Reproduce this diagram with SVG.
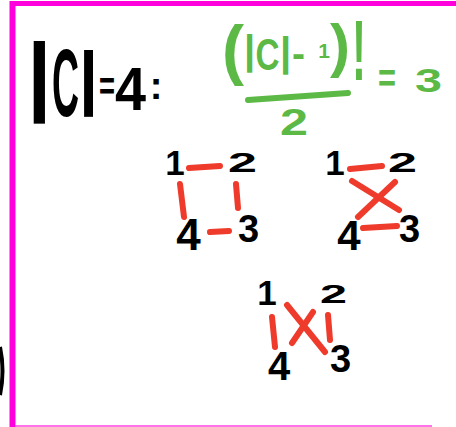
<svg xmlns="http://www.w3.org/2000/svg" width="456" height="427" viewBox="0 0 456 427">
<style>
.k{font-family:"Liberation Sans",Arial,sans-serif;font-weight:bold;fill:#000}
.g{font-family:"Liberation Sans",Arial,sans-serif;font-weight:bold;fill:#5cb946}
.e{stroke:#ee3b2b;stroke-width:6;stroke-linecap:round;fill:none}
.m{stroke:#ff00dc;fill:none}
</style>
<rect width="456" height="427" fill="#fff"/>
<g id="frame">
<line class="m" x1="10" y1="3.5" x2="456" y2="3.5" stroke-width="5"/>
<line class="m" x1="12.5" y1="1" x2="12.5" y2="427" stroke-width="6"/>
<line x1="15" y1="426" x2="432" y2="426" stroke="#ff44e0" stroke-width="1.5"/>
<path d="M0,347 Q5,371 0,395" stroke="#000" stroke-width="4" fill="none"/>
</g>
<g id="title">
<text class="k"><tspan x="27" y="104" font-size="88">|</tspan><tspan x="52" y="116" font-size="96" textLength="27" lengthAdjust="spacingAndGlyphs">C</tspan><tspan x="78.7" y="101" font-size="70">|</tspan><tspan x="99" y="100" font-size="40" textLength="16" lengthAdjust="spacingAndGlyphs">=</tspan><tspan x="115" y="110" font-size="62" textLength="31" lengthAdjust="spacingAndGlyphs">4</tspan><tspan x="149.7" y="99" font-size="38">:</tspan></text>
</g>
<g id="formula">
<text class="g"><tspan x="222" y="72" font-size="66">(</tspan><tspan x="244" y="64" font-size="40">|</tspan><tspan x="255.5" y="70" font-size="45" textLength="24" lengthAdjust="spacingAndGlyphs">C</tspan><tspan x="279.9" y="66" font-size="40">|</tspan><tspan x="292" y="67" font-size="40" textLength="13" lengthAdjust="spacingAndGlyphs">-</tspan><tspan x="318.2" y="58" font-size="21">1</tspan><tspan x="330" y="66" font-size="60">)</tspan><tspan x="352" y="80" font-size="85" textLength="14" lengthAdjust="spacingAndGlyphs">!</tspan></text>
<line x1="248" y1="100" x2="348" y2="93" stroke="#5cb946" stroke-width="6" stroke-linecap="round"/>
<text class="g" x="294" y="135" font-size="37" text-anchor="middle" textLength="28" lengthAdjust="spacingAndGlyphs">2</text>
<text class="g" x="378" y="92" font-size="40" textLength="18" lengthAdjust="spacingAndGlyphs">=</text>
<text class="g" x="428.5" y="92" font-size="34" text-anchor="middle" textLength="27" lengthAdjust="spacingAndGlyphs">3</text>
</g>
<g id="graph1">
<text class="k" x="175" y="175" font-size="35" text-anchor="middle">1</text>
<text class="k" x="242.5" y="172" font-size="27" text-anchor="middle" textLength="29" lengthAdjust="spacingAndGlyphs">2</text>
<text class="k" x="188.5" y="250" font-size="44" text-anchor="middle">4</text>
<text class="k" x="248.5" y="242" font-size="38" text-anchor="middle">3</text>
</g>
<g id="graph2">
<text class="k" x="335" y="175" font-size="35" text-anchor="middle">1</text>
<text class="k" x="402.5" y="172" font-size="28" text-anchor="middle" textLength="29" lengthAdjust="spacingAndGlyphs">2</text>
<text class="k" x="349" y="250" font-size="42" text-anchor="middle">4</text>
<text class="k" x="409.5" y="242" font-size="38" text-anchor="middle">3</text>
</g>
<g id="graph3">
<text class="k" x="267" y="305" font-size="35" text-anchor="middle">1</text>
<text class="k" x="333.5" y="303" font-size="26" text-anchor="middle" textLength="27" lengthAdjust="spacingAndGlyphs">2</text>
<text class="k" x="279" y="380" font-size="40" text-anchor="middle">4</text>
<text class="k" x="340.5" y="372" font-size="38" text-anchor="middle">3</text>
</g>
<g id="connectors">
<line class="e" x1="189" y1="168" x2="220" y2="166"/>
<line class="e" x1="180" y1="184" x2="184" y2="217"/>
<line class="e" x1="236" y1="184" x2="238" y2="208"/>
<line class="e" x1="210" y1="232" x2="229" y2="231"/>
<line class="e" x1="350" y1="169" x2="382" y2="166"/>
<line class="e" x1="352" y1="181" x2="399" y2="210"/>
<line class="e" x1="395" y1="182" x2="358" y2="217"/>
<line class="e" x1="363" y1="228" x2="397" y2="226"/>
<line class="e" x1="272" y1="317" x2="275" y2="347"/>
<line class="e" x1="328" y1="315" x2="330" y2="340"/>
<line class="e" x1="287" y1="305" x2="325" y2="352"/>
<line class="e" x1="313" y1="312" x2="292" y2="343"/>
</g>
</svg>
